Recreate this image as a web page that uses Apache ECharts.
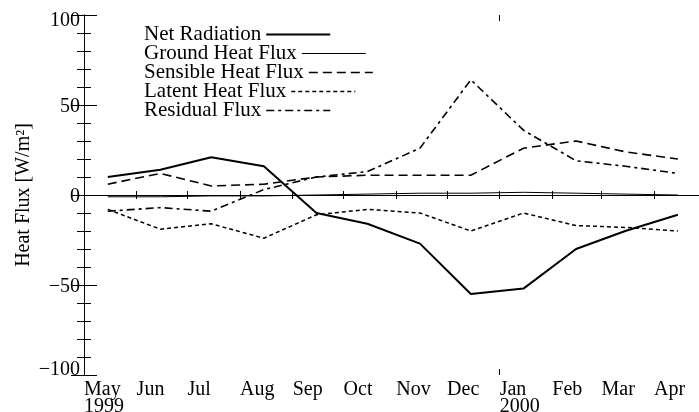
<!DOCTYPE html>
<html>
<head>
<meta charset="utf-8">
<script src="https://cdn.jsdelivr.net/npm/echarts@6/dist/echarts.min.js"></script>
<style>
html,body{margin:0;padding:0;background:#fff;}
#chart{width:699px;height:412px;}
</style>
</head>
<body>
<div id="chart"></div>
<script>
// Months (May 1999 – Apr 2000)
const months = ['May','Jun','Jul','Aug','Sep','Oct','Nov','Dec','Jan','Feb','Mar','Apr'];
const monthYears = [1999,1999,1999,1999,1999,1999,1999,1999,2000,2000,2000,2000];
const monthNums = [4,5,6,7,8,9,10,11,0,1,2,3];
const yTicks = [-100,-50,0,50,100];
const seriesNames = ['Net Radiation', 'Ground Heat Flux', 'Sensible Heat Flux', 'Latent Heat Flux', 'Residual Flux'];

// Series values (W/m^2)
const netRadiation     = [10, 14, 21, 16, -10, -16, -27, -55, -52, -30, -20, -11];
const groundHeatFlux   = [-1, -1, -0.5, -0.5, 0, 0.5, 1, 1, 1.5, 1, 0.5, 0];
const sensibleHeatFlux = [6, 12, 5, 6, 10, 11, 11, 11, 26, 30, 24, 20];
const latentHeatFlux   = [-8, -19, -16, -24, -11, -8, -10, -20, -10, -17, -18, -20];
const residualFlux     = [-9, -7, -9, 3, 10, 13, 26, 64, 36, 19, 16, 12];

const DAY = 864e5;
const origin = Date.UTC(1999, 4, 1);
const dayOf = (y, m, d) => (Date.UTC(y, m, d) - origin) / DAY;
const monthStarts = months.map((_, i) => dayOf(monthYears[i], monthNums[i], 1));
const midMonth = months.map((_, i) => dayOf(monthYears[i], monthNums[i], 15));
const axisEnd = dayOf(2000, 4, 1);
const yearTick = [dayOf(2000, 0, 1)];

const FONT = 'Liberation Serif';
const pts = arr => arr.map((v, i) => [midMonth[i], v]);

function labelFor(v) {
  const i = monthStarts.indexOf(v);
  if (i < 0) return '';
  if (i === 0) return months[i] + '\n1999';
  if (months[i] === 'Jan') return months[i] + '\n2000';
  return months[i];
}
function yLabel(v) {
  const t = v < 0 ? '\u2212' + Math.abs(v) : String(v);
  if (v === 100) return '{top|' + t + '}';
  if (v === -100) return '{bot|' + t + '}';
  return '{mid|' + t + '}';
}

const black = '#000';
const lineWidths = [2, 1, 1.6, 1.5, 1.6];
const lineTypes = ['solid', 'solid', [9, 5], [4, 3], [8, 4, 3, 4]];

const chart = echarts.init(document.getElementById('chart'), null, {renderer: 'canvas'});
const xBase = {
  type: 'value', min: 0, max: axisEnd,
  splitLine: {show: false},
  axisLine: {show: true, lineStyle: {color: black, width: 1}},
};
const yBase = {
  type: 'value', min: -100, max: 100, interval: 50,
  splitLine: {show: false},
  axisLine: {show: true, lineStyle: {color: black, width: 1}},
  axisTick: {show: true, inside: true, length: 13, lineStyle: {color: black}},
  minorTick: {show: true, splitNumber: 5, length: 7, lineStyle: {color: black}},
};

const legends = seriesNames.map((n, i) => ({
  orient: 'vertical', left: 139, top: 19 + 19 * i, align: 'right',
  itemWidth: 64, itemHeight: 10, itemGap: 0,
  selectedMode: false,
  itemStyle: {opacity: 0},
  lineStyle: {width: lineWidths[i], color: black, type: lineTypes[i]},
  textStyle: {fontFamily: FONT, fontSize: 21, color: black, lineHeight: 19},
  data: [n]
}));

const valueSets = [netRadiation, groundHeatFlux, sensibleHeatFlux, latentHeatFlux, residualFlux];
const series = seriesNames.map((n, i) => {
  const s = {
    name: n, type: 'line', data: pts(valueSets[i]),
    symbol: 'none', showSymbol: false, silent: true,
    lineStyle: {color: black, width: lineWidths[i], type: lineTypes[i]},
    itemStyle: {color: black}
  };
  if (i === 1) {
    s.markLine = {
      silent: true, symbol: 'none', label: {show: false},
      lineStyle: {color: black, width: 1, type: [4, 3]},
      data: [{yAxis: 0}]
    };
  }
  return s;
});

const richBase = {fontFamily: FONT, fontSize: 20, color: black};

chart.setOption({
  animation: false,
  backgroundColor: '#fff',
  grid: {left: 84, top: 15, width: 621, height: 360, containLabel: false, outerBoundsMode: 'none'},
  legend: legends,
  xAxis: [
    Object.assign({}, xBase, {
      position: 'bottom',
      axisTick: {show: true, inside: true, length: 4, customValues: monthStarts, lineStyle: {color: black}},
      axisLabel: {
        show: true, customValues: monthStarts, align: 'left', verticalAlign: 'top', margin: 6,
        fontFamily: FONT, fontSize: 20, color: black, lineHeight: 17,
        formatter: labelFor
      }
    }),
    Object.assign({}, xBase, {
      position: 'top',
      axisTick: {show: true, inside: true, length: 4, customValues: monthStarts, lineStyle: {color: black}},
      axisLabel: {show: false}
    }),
    Object.assign({}, xBase, {
      position: 'bottom', axisLine: {show: false},
      axisTick: {show: true, inside: true, length: 6, customValues: yearTick, lineStyle: {color: black}},
      axisLabel: {show: false}
    }),
    Object.assign({}, xBase, {
      position: 'top', axisLine: {show: false},
      axisTick: {show: true, inside: true, length: 6, customValues: yearTick, lineStyle: {color: black}},
      axisLabel: {show: false}
    })
  ],
  yAxis: [
    Object.assign({}, yBase, {
      position: 'left',
      name: 'Heat Flux [W/m\u00B2]', nameLocation: 'middle', nameGap: 50, nameRotate: 90,
      nameMoveOverlap: false,
      nameTextStyle: {fontFamily: FONT, fontSize: 20, color: black},
      axisLabel: {
        show: true, margin: 4, fontFamily: FONT, fontSize: 20, color: black,
        customValues: yTicks,
        formatter: yLabel,
        rich: {
          top: Object.assign({padding: [12, 0, 0, 0]}, richBase),
          mid: Object.assign({padding: [4, 0, 0, 0]}, richBase),
          bot: Object.assign({padding: [0, 0, 10, 0]}, richBase)
        }
      }
    }),
    Object.assign({}, yBase, {
      position: 'right',
      axisLabel: {show: false}
    })
  ],
  series: series
});
</script>
</body>
</html>
